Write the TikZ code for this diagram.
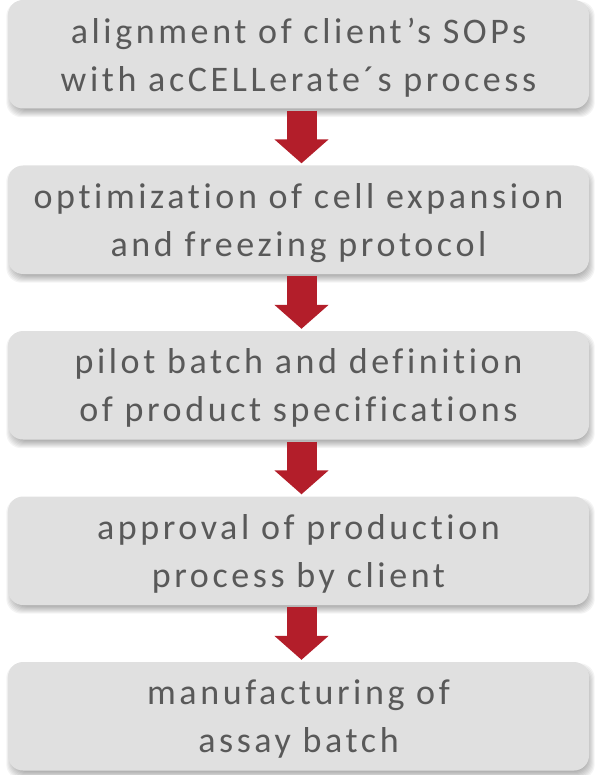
\documentclass[tikz,border=0pt]{standalone}
\usepackage{fontspec}
\setmainfont{Carlito}[LetterSpace=10,Ligatures=NoCommon,RawFeature=-liga]
\usetikzlibrary{arrows.meta,calc,backgrounds}
\definecolor{boxgrey}{HTML}{E0E0E0}
\definecolor{textgrey}{HTML}{595959}
\definecolor{arrowred}{HTML}{B31E2A}
\tikzset{
  stepbox/.style={rectangle, rounded corners=15pt, fill=boxgrey, minimum width=581pt,
    minimum height=108.5pt, inner sep=0pt},
  steptext/.style={align=center, text=textgrey, inner sep=0pt, yshift=-3pt,
    font=\fontsize{36}{48}\selectfont},
  blockarrow/.style={draw=arrowred, line width=30pt, -{Triangle[width=53pt,length=24pt]}, arrowred},
}
\begin{document}
\begin{tikzpicture}[x=1pt,y=-1pt]
\useasboundingbox (0,0) rectangle (597,775);
\node[stepbox, label={[steptext]center:{alignment of client’s SOPs\\with acCELLerate´s process}}] (b1) at (298.5,54.25) {};
\node[stepbox, label={[steptext]center:{optimization of cell expansion\\and freezing protocol}}] (b2) at (298.5,219.75) {};
\node[stepbox, label={[steptext]center:{pilot batch and definition\\of product specifications}}] (b3) at (298.5,385.25) {};
\node[stepbox, label={[steptext]center:{approval of production\\process by client}}] (b4) at (298.5,550.75) {};
\node[stepbox, label={[steptext]center:{manufacturing of\\assay batch}}] (b5) at (298.5,716.25) {};
\begin{pgfonlayer}{background}
\foreach \n in {b1,b2,b3,b4,b5} {
  \foreach \k in {0,...,7} {
    \fill[black, opacity=0.045, rounded corners=15pt]
      ($(\n.north west)+(2+3.5-\k,5+3.5-\k)$) rectangle ($(\n.south east)+(2-3.5+\k,5-3.5+\k)$);
  }
}
\end{pgfonlayer}
\foreach \a/\b in {b1/b2,b2/b3,b3/b4,b4/b5} {
  \draw[blockarrow] ($(\a.south)+(3,2)$) -- ($(\b.north)+(3,-2)$);
}
\end{tikzpicture}
\end{document}
